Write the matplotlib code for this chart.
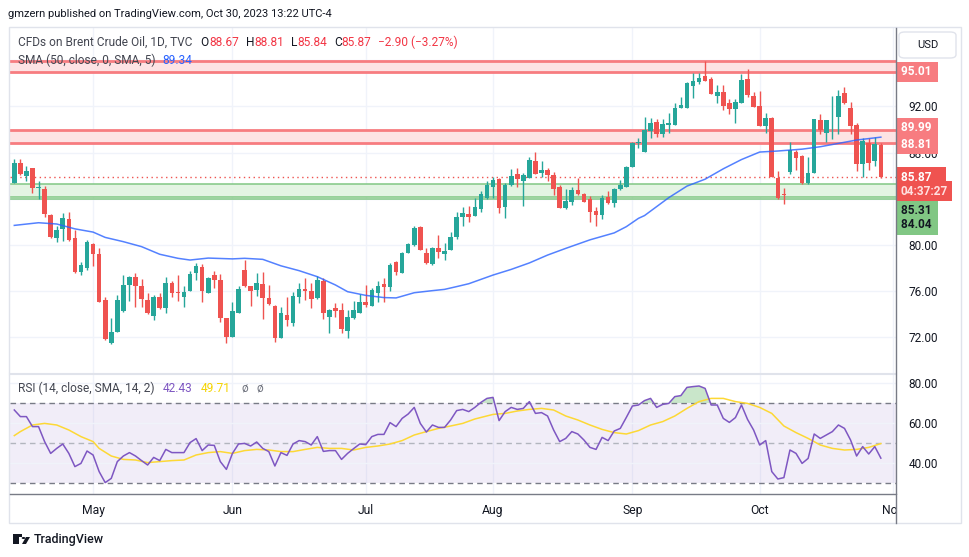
import numpy as np
import pandas as pd
import matplotlib
matplotlib.use("Agg")
import matplotlib.pyplot as plt
from matplotlib.transforms import blended_transform_factory
from matplotlib.patches import Rectangle, FancyBboxPatch, Polygon, Circle
from matplotlib.lines import Line2D

# ---------------- data ----------------
dates = pd.bdate_range("2023-04-12", "2023-10-30")

opens = [85.40, 87.07, 86.00, 86.67, 84.97, 84.85, 82.60, 80.63, 81.36, 82.25,
         80.61, 77.69, 78.04, 80.09, 79.22, 75.24, 71.54, 72.50, 74.26, 76.54,
         77.26, 76.48, 75.24, 73.88, 75.53, 74.57, 76.74, 75.96, 75.53, 76.05,
         77.60, 78.07, 75.87, 77.40, 76.97, 73.68, 72.06, 74.14, 77.84, 76.45,
         76.10, 76.62, 75.41, 74.72, 71.98, 73.94, 73.28, 75.47, 76.22, 76.05,
         75.38, 76.88, 73.80, 74.57, 74.37, 72.58, 73.71, 74.14, 75.06, 74.72,
         75.87, 76.62, 76.39, 78.53, 77.60, 79.28, 80.00, 81.53, 79.34, 78.35,
         79.71, 79.22, 79.57, 80.72, 82.40, 82.68, 82.51, 83.12, 84.04, 85.05,
         85.71, 83.32, 85.19, 86.15, 85.57, 85.83, 87.27, 86.26, 86.49, 86.06,
         85.05, 83.23, 83.75, 84.76, 84.42, 83.95, 82.97, 82.60, 84.13, 83.67,
         84.82, 85.05, 86.72, 88.80, 88.08, 89.87, 90.68, 89.64, 90.39, 90.39,
         91.89, 91.89, 93.77, 94.14, 94.66, 94.37, 92.93, 93.22, 92.32, 91.77,
         92.32, 94.37, 92.93, 92.03, 90.27, 90.97, 85.77, 84.39, 86.35, 88.02,
         87.71, 85.40, 86.26, 90.82, 89.73, 91.23, 91.11, 93.19, 91.86, 90.39,
         87.01, 88.80, 87.30, 88.67]
highs = [87.45, 87.42, 86.84, 86.67, 85.57, 85.11, 82.65, 81.67, 82.80, 82.86,
         81.30, 78.50, 80.43, 80.17, 79.74, 75.53, 73.68, 75.67, 77.40, 77.34,
         77.55, 77.08, 75.82, 75.67, 75.87, 77.26, 76.91, 77.40, 76.48, 77.72,
         78.47, 78.35, 77.26, 77.75, 77.49, 73.68, 75.09, 76.45, 78.70, 76.45,
         77.60, 77.66, 76.54, 74.81, 74.60, 75.47, 75.96, 76.74, 77.11, 76.74,
         77.32, 77.11, 74.49, 75.01, 75.01, 74.37, 75.18, 75.76, 76.54, 76.25,
         76.88, 77.11, 78.47, 78.64, 79.42, 80.20, 81.65, 81.65, 79.71, 79.86,
         80.87, 80.14, 81.15, 82.89, 83.32, 83.38, 84.04, 84.70, 85.54, 85.92,
         85.77, 85.34, 86.55, 86.64, 86.20, 87.65, 88.08, 87.27, 86.64, 86.35,
         85.19, 84.82, 84.99, 85.77, 84.47, 84.24, 83.32, 84.33, 84.68, 84.91,
         85.63, 86.84, 88.95, 89.24, 91.11, 91.02, 90.88, 90.91, 91.40, 92.27,
         92.84, 94.14, 94.86, 94.86, 95.93, 94.57, 93.85, 93.85, 92.64, 92.64,
         94.78, 95.24, 93.28, 93.33, 91.40, 91.11, 86.41, 84.91, 88.95, 88.23,
         87.79, 87.59, 90.88, 91.34, 90.82, 92.90, 93.42, 93.71, 92.35, 90.59,
         89.24, 89.24, 89.32, 88.81]
lows = [85.40, 86.09, 85.57, 84.53, 83.98, 82.45, 80.65, 80.29, 80.38, 80.38,
        77.60, 77.43, 77.84, 78.18, 75.09, 71.77, 71.43, 72.50, 74.17, 75.18,
        74.66, 74.66, 74.03, 73.54, 74.43, 74.14, 75.53, 75.18, 74.66, 75.99,
        76.97, 75.09, 75.82, 76.25, 73.36, 71.54, 72.06, 74.14, 76.39, 74.72,
        75.58, 73.56, 74.78, 71.63, 71.98, 72.99, 72.99, 74.98, 75.24, 74.52,
        75.35, 73.62, 72.41, 73.74, 72.41, 71.92, 73.56, 74.14, 74.66, 74.72,
        75.09, 75.09, 76.05, 77.37, 77.55, 79.28, 79.91, 79.57, 78.35, 78.30,
        78.85, 78.70, 79.57, 80.49, 81.65, 82.02, 82.51, 82.89, 83.95, 84.04,
        82.80, 82.37, 85.11, 85.05, 83.38, 85.83, 86.15, 85.92, 85.57, 84.33,
        83.23, 83.15, 83.46, 84.33, 83.75, 82.02, 81.65, 82.22, 83.55, 83.32,
        84.76, 85.05, 86.72, 88.37, 88.08, 89.29, 89.38, 89.38, 89.73, 90.39,
        91.83, 91.83, 92.70, 93.91, 94.20, 93.10, 92.27, 91.69, 91.31, 90.53,
        92.32, 92.84, 91.98, 90.33, 89.67, 85.92, 83.98, 83.52, 86.15, 86.49,
        85.28, 85.28, 86.26, 89.61, 88.95, 89.18, 89.61, 92.21, 89.61, 86.44,
        85.86, 86.49, 86.84, 85.84]
closes = [87.13, 86.18, 86.41, 84.96, 85.00, 82.71, 80.72, 81.30, 82.31, 80.43,
          77.69, 78.27, 80.26, 79.25, 75.09, 71.83, 72.50, 75.24, 76.54, 77.26,
          76.48, 75.35, 74.14, 75.53, 74.57, 76.74, 75.82, 75.82, 75.93, 77.49,
          78.18, 76.05, 77.17, 76.97, 73.71, 72.06, 74.29, 76.16, 76.45, 76.05,
          76.74, 75.44, 74.89, 71.98, 74.08, 73.51, 75.58, 76.16, 76.02, 75.35,
          76.97, 74.14, 74.34, 74.31, 72.70, 73.74, 74.37, 75.09, 74.81, 76.10,
          76.45, 76.39, 78.27, 77.66, 79.34, 80.09, 81.44, 79.57, 78.47, 79.71,
          79.42, 79.51, 80.72, 82.40, 82.74, 82.40, 83.26, 84.42, 85.19, 85.63,
          83.23, 85.19, 85.97, 85.74, 86.06, 87.36, 86.15, 86.49, 86.06, 84.82,
          83.23, 83.81, 84.76, 84.42, 83.75, 82.89, 82.60, 84.04, 83.67, 84.82,
          85.19, 86.72, 88.86, 88.89, 89.96, 90.59, 89.58, 90.45, 90.56, 91.89,
          92.12, 94.05, 94.20, 94.49, 94.20, 93.10, 93.22, 92.06, 91.77, 92.41,
          94.29, 92.99, 91.98, 90.33, 90.97, 85.92, 84.10, 84.33, 88.23, 87.56,
          85.40, 86.20, 90.88, 89.96, 90.82, 91.28, 92.90, 92.27, 90.33, 87.01,
          89.03, 87.13, 88.74, 85.87]

# SMA(50) at these candle numbers
sma_at = [0, 4, 7, 10, 13, 15, 18, 21, 24, 27, 29, 32, 36, 38, 41, 44, 47, 50,
          53, 55, 58, 61, 63, 66, 69, 71, 73, 75, 79, 82, 85, 88, 91, 95, 99,
          101, 103, 104, 108, 111, 114, 117, 120, 123, 126, 130, 133, 136, 139, 143]
sma_vals = [81.70, 81.93, 81.82, 81.40, 81.12, 80.66, 80.29, 79.86, 79.20, 78.85,
            78.70, 78.87, 78.80, 78.85, 78.76, 78.20, 77.78, 77.26, 76.54, 75.96,
            75.64, 75.45, 75.42, 75.87, 76.05, 76.16, 76.40, 76.65, 77.40, 77.89,
            78.45, 79.13, 79.71, 80.45, 81.05, 81.59, 82.31, 82.55, 84.10, 85.10,
            85.70, 86.60, 87.40, 88.05, 88.14, 88.30, 88.51, 88.80, 89.09, 89.34]

rsi_vals = [66.5, 63.2, 63.2, 58.2, 58.2, 50.7, 44.8, 47.3, 49.5, 44.8,
            38.2, 39.8, 46.0, 44.0, 35.7, 30.2, 32.3, 40.7, 43.5, 45.2,
            43.5, 41.2, 39.0, 42.8, 41.2, 46.8, 45.2, 45.2, 45.2, 50.2,
            52.2, 46.2, 49.0, 48.8, 40.7, 36.8, 44.8, 49.5, 49.8, 48.5,
            50.5, 47.3, 45.7, 38.5, 45.2, 43.8, 49.5, 51.2, 50.7, 49.0,
            53.2, 45.8, 46.2, 46.2, 41.8, 44.8, 47.2, 49.5, 49.2, 53.2,
            54.3, 54.3, 60.2, 58.2, 62.3, 64.5, 67.8, 59.8, 55.5, 59.0,
            57.8, 57.8, 61.5, 66.2, 66.8, 65.7, 67.8, 70.3, 72.3, 72.8,
            61.2, 65.7, 67.8, 66.8, 67.3, 70.7, 64.8, 65.2, 63.5, 56.5,
            50.7, 52.3, 55.7, 54.5, 51.5, 47.8, 46.8, 52.8, 51.2, 56.0,
            57.3, 62.8, 68.5, 69.0, 71.2, 72.3, 67.8, 69.3, 69.8, 73.2,
            73.7, 77.8, 78.2, 78.5, 77.3, 69.0, 69.0, 62.3, 60.3, 62.7,
            69.0, 61.8, 56.5, 49.0, 51.2, 35.7, 32.0, 32.7, 46.5, 44.8,
            39.8, 42.3, 54.5, 52.3, 54.0, 55.7, 59.0, 57.3, 51.5, 43.5,
            48.2, 44.5, 48.2, 42.43]

rsi_ma_at = [0, 1, 3, 5, 7, 9, 11, 13, 14, 16, 18, 20, 22, 24, 26, 28, 30, 32, 34,
             36, 38, 40, 42, 44, 46, 48, 50, 52, 54, 56, 58, 60, 62, 64, 66, 68,
             70, 72, 74, 76, 79, 81, 83, 85, 87, 89, 91, 93, 95, 97, 99, 101, 103,
             105, 107, 109, 111, 113, 115, 117, 119, 121, 123, 125, 127, 129, 131,
             133, 135, 137, 139, 141, 143]
rsi_ma_vals = [53.7, 55.7, 59.0, 59.8, 59.0, 56.5, 53.2, 50.7, 47.3, 43.5, 41.8,
               41.5, 40.2, 40.7, 41.2, 41.5, 44.0, 45.2, 45.7, 44.8, 46.2, 46.8,
               46.5, 45.7, 45.7, 46.8, 47.8, 47.3, 47.3, 46.5, 47.8, 48.5, 49.5,
               51.2, 54.0, 55.7, 57.3, 58.5, 59.8, 62.0, 64.3, 64.8, 66.0, 66.8,
               67.3, 66.5, 63.5, 61.5, 59.0, 56.8, 55.2, 54.5, 56.2, 59.0, 60.7,
               63.5, 67.3, 70.7, 72.3, 72.3, 70.7, 69.8, 67.8, 64.8, 58.5, 55.2,
               52.3, 49.0, 47.3, 46.5, 46.8, 47.8, 49.71]

price_ticks = [72, 76, 80, 84, 88, 92, 96]
price_tick_labels = ["72.00", "76.00", "80.00", "", "88.00", "92.00", ""]
rsi_ticks = [40, 60, 80]
rsi_tick_labels = ["40.00", "60.00", "80.00"]
month_starts = ["2023-05-01", "2023-06-01", "2023-07-03", "2023-08-01",
                "2023-09-01", "2023-10-02", "2023-11-01"]
month_labels = ["May", "Jun", "Jul", "Aug", "Sep", "Oct", "Nov"]

zone_top = (95.01, 95.93)
zone_mid = (88.81, 89.99)
zone_green = (84.13, 85.31)
green_line = 83.96
last_price = 85.87
green_labels = ["85.31", "84.04"]

# ---------------- styling ----------------
W, H = 970, 557
FONT = "Roboto"
TXT = "#131722"
UP, DN = "#26a69a", "#ef5350"
plt.rcParams["font.family"] = [FONT, "DejaVu Sans"]

fig = plt.figure(figsize=(W / 100, H / 100), dpi=100)
fig.patch.set_facecolor("white")


def rect(x0, y0, x1, y1):
    return [x0 / W, 1 - y1 / H, (x1 - x0) / W, (y1 - y0) / H]


ax = fig.add_axes(rect(10, 28, 896, 373))
rax = fig.add_axes(rect(10, 373, 896, 494), sharex=ax)

idx = np.arange(len(dates))
full = pd.bdate_range("2023-04-12", "2023-11-01")
month_pos = [full.get_loc(pd.Timestamp(d)) for d in month_starts]

o = np.array(opens); h = np.array(highs); l = np.array(lows); c = np.array(closes)
up = c >= o
cols = np.where(up, UP, DN)

ax.set_xlim(-0.71, 145.5)
ax.set_ylim(68.92, 98.79)
rax.set_ylim(24.5, 85)

for a in (ax, rax):
    for s in a.spines.values():
        s.set_visible(False)
    a.patch.set_visible(False)
    for p in month_pos:
        a.axvline(p, color="#f0f3fa", lw=1, zorder=0)

# grid price
for t in price_ticks:
    ax.axhline(t, color="#f0f3fa", lw=1, zorder=0)

# zones
ax.axhspan(*zone_top, color="#fde3e4", zorder=1, lw=0)
ax.axhspan(*zone_mid, color="#fde3e4", zorder=1, lw=0)
for v in list(zone_top) + list(zone_mid):
    ax.axhline(v, color="#f77c80", lw=2, zorder=1.5)
ax.axhspan(*zone_green, color="#e4f4e3", zorder=1, lw=0)
for v in list(zone_green) + [green_line]:
    ax.axhline(v, color="#81c784", lw=1.1, zorder=1.5)

ax.axhline(last_price, color=DN, lw=1, ls=(0, (1, 2.5)), zorder=1.6)

# candles
ax.vlines(idx, l, h, colors=cols, lw=1, zorder=3)
body_lo = np.minimum(o, c)
body_h = np.maximum(np.abs(c - o), 0.06)
ax.bar(idx, body_h, bottom=body_lo, width=0.76, color=cols, lw=0, zorder=4)

ax.plot(sma_at, sma_vals, color="#2962ff", lw=1.1, alpha=0.8, zorder=5)

# price axis ticks
ax.yaxis.tick_right()
ax.set_yticks(price_ticks)
ax.set_yticklabels(price_tick_labels)
ax.tick_params(axis="y", length=0, pad=9, labelsize=8.5, labelcolor=TXT)
ax.tick_params(axis="x", length=0, labelbottom=False)

# price labels on axis
tr = blended_transform_factory(ax.transAxes, ax.transData)


def tag(val, text, fc, tc, dy_px=0):
    ax.annotate(text, xy=(1, val), xycoords=tr, xytext=(3.5, -dy_px * 0.72),
                textcoords="offset points", ha="left", va="center",
                fontsize=8.5, color=tc, fontweight="bold", zorder=10,
                annotation_clip=False,
                bbox=dict(boxstyle="square,pad=0.3", fc=fc, ec="none"))


tag(zone_top[0], "95.01 ", "#f77c80", "white")
tag(zone_mid[1], "89.99 ", "#f77c80", "white", dy_px=-2)
tag(zone_mid[0], "88.81 ", "#f77c80", "white", dy_px=1)
tag(last_price, "85.87    ", DN, "white")
tag(last_price, "04:37:27", DN, "#ffe0e0", dy_px=14)
tag(zone_green[1], green_labels[0] + " ", "#81c784", TXT, dy_px=27)
tag(zone_green[1], green_labels[1] + " ", "#81c784", TXT, dy_px=41)

# RSI panel
rax.axhspan(30, 70, color="#7e57c2", alpha=0.1, lw=0, zorder=0.5)
for t in rsi_ticks:
    rax.axhline(t, color="#f0f3fa", lw=1, zorder=0.6)
rax.axhline(70, color="#787b86", lw=1, ls=(0, (4, 3)), zorder=1)
rax.axhline(30, color="#787b86", lw=1, ls=(0, (4, 3)), zorder=1)
rax.axhline(50, color="#b2b5be", lw=1, ls=(0, (4, 3)), zorder=1)
r = np.array(rsi_vals)
rax.fill_between(idx, r, 70, where=r > 70, interpolate=True,
                 color="#a5d6a7", alpha=0.6, lw=0, zorder=1.2)
rax.plot(rsi_ma_at, rsi_ma_vals, color="#fdd835", lw=1.1, zorder=2)
rax.plot(idx, r, color="#7e57c2", lw=1.1, zorder=3)

rax.yaxis.tick_right()
rax.set_yticks(rsi_ticks)
rax.set_yticklabels(rsi_tick_labels)
rax.tick_params(axis="y", length=0, pad=9, labelsize=8.5, labelcolor=TXT)
rax.set_xticks(month_pos)
rax.set_xticklabels(month_labels)
rax.tick_params(axis="x", length=0, pad=7, labelsize=8.7, labelcolor=TXT)

# frame lines
fig.add_artist(Rectangle((9 / W, 1 - 523 / H), 952 / W, 496 / H, transform=fig.transFigure,
                         fill=False, ec="#e0e3eb", lw=1, zorder=6))
fig.add_artist(Line2D([10 / W, 896 / W], [1 - 373.5 / H] * 2, color="#e0e3eb", lw=1.5, zorder=6))
fig.add_artist(Line2D([10 / W, 896 / W], [1 - 494 / H] * 2, color="#787b86", lw=1, zorder=6))
fig.add_artist(Rectangle((897 / W, 1 - 521 / H), 62 / W, 26 / H, transform=fig.transFigure,
                         fc="white", ec="none", zorder=7))
fig.add_artist(Line2D([896.5 / W] * 2, [1 - 523 / H, 1 - 28 / H], color="#787b86", lw=1, zorder=8))

# USD box
fig.add_artist(FancyBboxPatch((899 / W, 1 - 58 / H), 57 / W, 26 / H,
                              boxstyle="round,pad=0,rounding_size=0.006",
                              transform=fig.transFigure, fc="white", ec="#e0e3eb", lw=1, zorder=9))
fig.text(927.5 / W, 1 - 45 / H, "USD", ha="center", va="center", fontsize=8, color=TXT, zorder=10)

# header
fig.text(8 / W, 1 - 14 / H, "gmzern published on TradingView.com, Oct 30, 2023 13:22 UTC-4",
         ha="left", va="center", fontsize=8, color=TXT)


def chain(host, first, rest, x, y, fs=8.6):
    t = fig.text(x / W, 1 - y / H, first[0], color=first[1], fontsize=fs,
                 ha="left", va="bottom", zorder=12)
    prev = t
    for s, col, gap in rest:
        prev = host.annotate(s, xy=(1, 0), xycoords=prev, xytext=(gap, 0),
                             textcoords="offset points", ha="left", va="bottom",
                             color=col, fontsize=fs, zorder=12, annotation_clip=False)
    return prev


RED = "#f23645"
chain(ax, ("CFDs on Brent Crude Oil, 1D, TVC", "#434651"),
      [("O", TXT, 6), ("88.67", RED, 0), ("H", TXT, 5), ("88.81", RED, 0),
       ("L", TXT, 5), ("85.84", RED, 0), ("C", TXT, 5), ("85.87", RED, 0),
       ("\u22122.90 (\u22123.27%)", RED, 5)], 18, 49)
chain(ax, ("SMA (50, close, 0, SMA, 5)", "#434651"), [("89.34", "#2962ff", 5)], 18, 67)
chain(rax, ("RSI (14, close, SMA, 14, 2)", "#434651"),
      [("42.43", "#7e57c2", 6), ("49.71", "#f5d400", 6), ("\u00f8", "#787b86", 8),
       ("\u00f8", "#787b86", 6)], 18, 395)

# footer logo
lx, ly = 13, 540
fig.add_artist(Rectangle((lx / W, 1 - (ly + 4) / H), 6 / W, 8 / H, transform=fig.transFigure,
                         fc=TXT, ec="none"))
fig.add_artist(Rectangle((lx / W, 1 - (ly - 3) / H), 9 / W, 3 / H, transform=fig.transFigure,
                         fc=TXT, ec="none"))
fig.add_artist(Circle(((lx + 10.5) / W, 1 - (ly - 2) / H), 1.8 / W, transform=fig.transFigure,
                      fc=TXT, ec="none"))
fig.add_artist(Polygon([((lx + 9) / W, 1 - (ly + 4) / H), ((lx + 13) / W, 1 - (ly - 3) / H),
                        ((lx + 17) / W, 1 - (ly - 3) / H), ((lx + 13) / W, 1 - (ly + 4) / H)],
                       closed=True, transform=fig.transFigure, fc=TXT, ec="none"))
fig.text(34 / W, 1 - 540 / H, "TradingView", ha="left", va="center", fontsize=9,
         color=TXT, fontweight="medium")

fig.savefig("out.png", dpi=100, facecolor="white")
